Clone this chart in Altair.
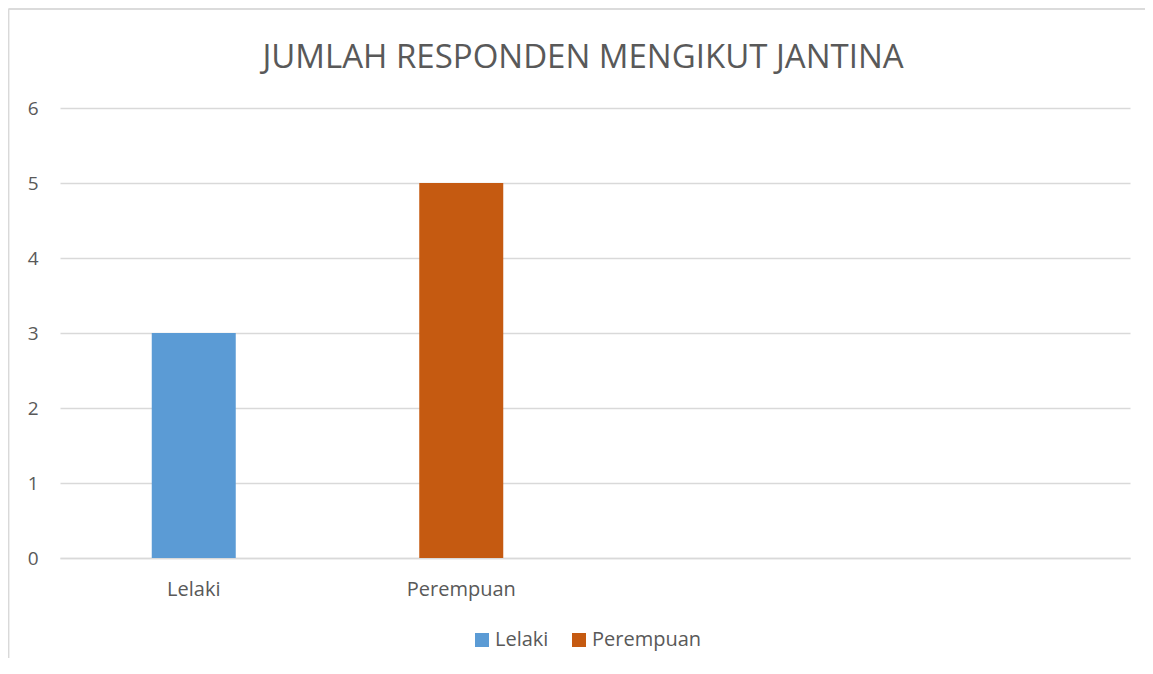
import altair as alt
import pandas as pd

categories = ["Lelaki", "Perempuan"]
values = [3, 5]
axis_slots = ["Lelaki", "Perempuan", "slot3", "slot4"]
colors = ["#5B9BD5", "#C55A11"]
title_text = "JUMLAH RESPONDEN MENGIKUT JANTINA"

df = pd.DataFrame({"Jantina": categories, "Jumlah": values})

FONT = "Open Sans"
TXT = "#595959"
GRID = "#D9D9D9"
W, H = 1070, 450

bars = alt.Chart(df).mark_bar(size=84).encode(
    x=alt.X("Jantina:N", sort=axis_slots,
            scale=alt.Scale(domain=axis_slots, paddingInner=0, paddingOuter=0),
            axis=alt.Axis(title=None, labelAngle=0, ticks=False, domain=True,
                          domainColor=GRID, domainWidth=1.5, grid=False,
                          labelExpr="indexof(['Lelaki','Perempuan'], datum.value) >= 0 ? datum.value : ''",
                          labelFontSize=20, labelColor=TXT, labelFont=FONT,
                          labelPadding=21)),
    y=alt.Y("Jumlah:Q", scale=alt.Scale(domain=[0, 6]),
            axis=alt.Axis(title=None, values=[0, 1, 2, 3, 4, 5, 6], ticks=False,
                          domain=False, grid=True, gridColor=GRID, gridWidth=1.5,
                          labelFontSize=19, labelColor=TXT, labelFont=FONT,
                          labelPadding=22)),
    color=alt.Color("Jantina:N",
                    scale=alt.Scale(domain=categories, range=colors),
                    legend=alt.Legend(title=None, orient="none", direction="horizontal",
                                      legendX=412, legendY=522, symbolType="square",
                                      symbolSize=196, symbolStrokeWidth=0,
                                      labelFontSize=20, labelColor=TXT, labelFont=FONT,
                                      columnPadding=20, labelOffset=3)),
)

title = alt.Chart(pd.DataFrame({"t": [title_text]})).mark_text(
    font=FONT, fontSize=33, color=TXT, align="center", baseline="alphabetic"
).encode(text="t:N", x=alt.value(W / 2 - 12), y=alt.value(-40))

border = alt.Chart(df).mark_rule(color=GRID, strokeWidth=1.5).encode(
    x=alt.value(-51.5), y=alt.value(-99), y2=alt.value(H + 120)
)
border_top = alt.Chart(df).mark_rule(color=GRID, strokeWidth=1.5).encode(
    x=alt.value(-51.5), x2=alt.value(W + 40), y=alt.value(-99)
)

chart = alt.layer(border, border_top, title, bars).properties(
    width=W, height=H,
    autosize=alt.AutoSizeParams(type="none"),
    padding={"left": 52, "top": 100, "right": 15, "bottom": 100},
).configure(background="white").configure_view(stroke=None)

chart.save("out.html", embed_options={"renderer": "svg", "actions": False})
